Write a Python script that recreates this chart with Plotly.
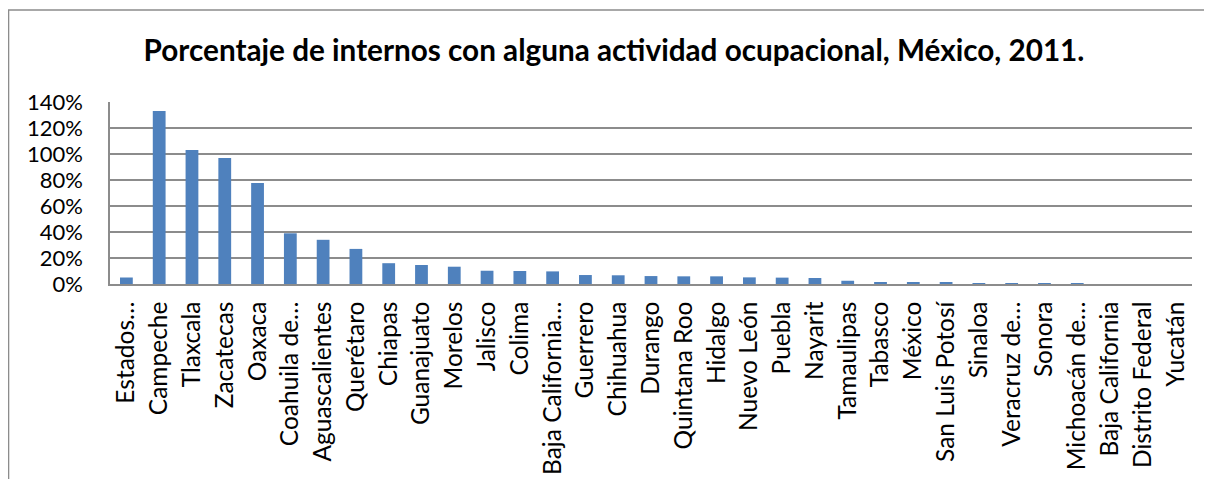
import plotly.graph_objects as go

categories = ["Estados…", "Campeche", "Tlaxcala", "Zacatecas", "Oaxaca", "Coahuila de…",
              "Aguascalientes", "Querétaro", "Chiapas", "Guanajuato", "Morelos", "Jalisco",
              "Colima", "Baja California…", "Guerrero", "Chihuahua", "Durango", "Quintana Roo",
              "Hidalgo", "Nuevo León", "Puebla", "Nayarit", "Tamaulipas", "Tabasco", "México",
              "San Luis Potosí", "Sinaloa", "Veracruz de…", "Sonora", "Michoacán de…",
              "Baja California", "Distrito Federal", "Yucatán"]
values = [0.05, 1.33, 1.03, 0.97, 0.777, 0.39, 0.34, 0.27, 0.16, 0.146, 0.133, 0.102,
          0.10, 0.097, 0.069, 0.067, 0.061, 0.059, 0.059, 0.051, 0.049, 0.046, 0.025,
          0.015, 0.015, 0.010, 0.007, 0.007, 0.007, 0.007, 0.0, 0.0, 0.0]
y_ticks = [0, 0.2, 0.4, 0.6, 0.8, 1.0, 1.2, 1.4]
title = "Porcentaje de internos con alguna actividad ocupacional, México, 2011."

FONT = "Lato, Carlito, Calibri, sans-serif"
GRID = "#8c8c8c"

fig = go.Figure(go.Bar(x=categories, y=values, marker=dict(color="#4F81BD", line=dict(width=0))))

# page body has an 8px margin, so the figure is offset by 8px on screen
OFF = 8
W, H = 1212 - OFF, 479 - OFF
L, T = 110 - OFF, 102 - OFF
pw, ph = 1082.5, 182
R = W - L - pw
B = H - T - ph

fig.update_layout(
    width=W, height=H,
    margin=dict(l=L, r=R, t=T, b=B, autoexpand=False),
    paper_bgcolor="white", plot_bgcolor="white",
    bargap=0.61,
    showlegend=False,
    font=dict(family=FONT, color="black"),
    title=dict(text="<b>" + title + "</b>", x=(614 - OFF) / W, xanchor="center",
               y=1 - 43 / H, yanchor="middle", font=dict(size=29.7, family=FONT, color="black")),
    xaxis=dict(type="category", tickangle=-90, tickfont=dict(size=24.5, family=FONT),
               showline=True, linecolor=GRID, linewidth=1.5, showgrid=False, ticks="",
               automargin=False, ticklabelstandoff=6),
    yaxis=dict(range=[0, 1.4], tickvals=y_ticks, tickformat=".0%", tickfont=dict(size=22, family=FONT),
               showgrid=True, gridcolor=GRID, gridwidth=1.5, showline=True, linecolor=GRID,
               linewidth=1.5, ticks="", zeroline=False, automargin=False, ticklabelstandoff=21),
    shapes=[dict(type="rect", xref="paper", yref="paper",
                 x0=(0.5 - L) / pw, x1=(W + 5 - L) / pw,
                 y0=-(H + 5 - (T + ph)) / ph, y1=(T + ph - 2) / ph,
                 line=dict(color="#8c8c8c", width=1.5), fillcolor="rgba(0,0,0,0)", layer="below")],
)

fig.write_html("out.html")
